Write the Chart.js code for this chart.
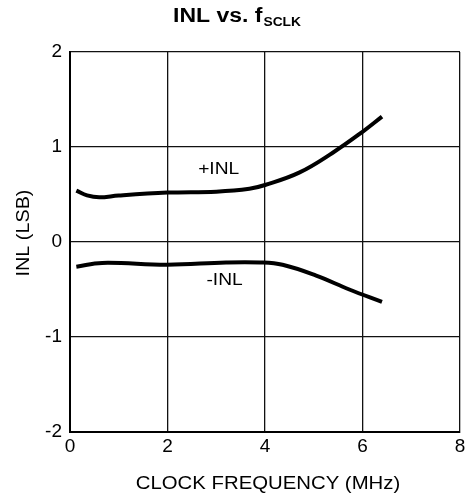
<!DOCTYPE html>
<html>
<head>
<meta charset="utf-8">
<script src="https://cdn.jsdelivr.net/npm/chart.js@4.4.1/dist/chart.umd.min.js"></script>
<style>
  html, body { margin: 0; padding: 0; background: #fff; }
  #wrap { position: relative; width: 469px; height: 499px; }
</style>
</head>
<body>
<div id="wrap"><canvas id="inlChart"></canvas></div>
<script>
// values
const plusFreq = [0.13, 0.35, 0.6, 1.0, 2.0, 3.0, 3.68, 4.0, 4.7, 5.39, 6.0, 6.40];
const plusInl  = [0.54, 0.49, 0.47, 0.49, 0.52, 0.53, 0.56, 0.60, 0.73, 0.94, 1.16, 1.32];
const minusFreq = [0.13, 0.66, 2.0, 3.2, 3.9, 4.36, 5.05, 5.73, 6.40];
const minusInl  = [-0.26, -0.22, -0.24, -0.215, -0.215, -0.24, -0.354, -0.50, -0.63];
const xTicks = [0, 2, 4, 6, 8];
const yTicks = [-2, -1, 0, 1, 2];
const curveLabels = [
    { text: '+INL', x: 3.05, y: 0.76 },
    { text: '-INL', x: 3.17, y: -0.41 }
];

const FONT = '"Liberation Sans", Arial, sans-serif';

function toPoints(xs, ys) {
    return xs.map(function (x, i) { return { x: x, y: ys[i] }; });
}

// draws text stretched horizontally like the original figure
function wideText(ctx, text, x, y, sx) {
    ctx.save();
    ctx.translate(x, y);
    ctx.scale(sx, 1);
    ctx.fillText(text, 0, 0);
    ctx.restore();
}

// title, axis titles and curve labels
const textPlugin = {
    id: 'texts',
    afterDraw: function (chart) {
        const ctx = chart.ctx;
        const xs = chart.scales.x, ys = chart.scales.y;
        const sx = 1.15;
        ctx.save();
        ctx.fillStyle = '#000';

        // title with subscript
        ctx.textBaseline = 'alphabetic';
        ctx.textAlign = 'left';
        ctx.font = 'bold 20px ' + FONT;
        const main = 'INL vs. f';
        const mainW = ctx.measureText(main).width * sx;
        ctx.font = 'bold 12px ' + FONT;
        const subW = ctx.measureText('SCLK').width * sx;
        const tx = 237 - (mainW + subW + 1) / 2;
        ctx.font = 'bold 20px ' + FONT;
        wideText(ctx, main, tx, 22, sx);
        ctx.font = 'bold 12px ' + FONT;
        wideText(ctx, 'SCLK', tx + mainW + 1, 26, sx);

        // axis titles
        ctx.font = '18px ' + FONT;
        ctx.textAlign = 'center';
        ctx.textBaseline = 'middle';
        wideText(ctx, 'CLOCK FREQUENCY (MHz)', 268, 484, 1.13);
        ctx.save();
        ctx.translate(24, 233);
        ctx.rotate(-Math.PI / 2);
        wideText(ctx, 'INL (LSB)', 0, 0, 1.1);
        ctx.restore();

        // curve labels
        ctx.font = '16px ' + FONT;
        curveLabels.forEach(function (l) {
            wideText(ctx, l.text, xs.getPixelForValue(l.x), ys.getPixelForValue(l.y), 1.2);
        });
        ctx.restore();
    }
};

new Chart(document.getElementById('inlChart'), {
    type: 'line',
    data: {
        datasets: [
            {
                label: '+INL',
                data: toPoints(plusFreq, plusInl),
                borderColor: '#000',
                borderWidth: 4,
                pointRadius: 0,
                tension: 0.4,
                fill: false
            },
            {
                label: '-INL',
                data: toPoints(minusFreq, minusInl),
                borderColor: '#000',
                borderWidth: 4,
                pointRadius: 0,
                tension: 0.4,
                fill: false
            }
        ]
    },
    options: {
        responsive: true,
        maintainAspectRatio: false,
        animation: false,
        layout: { padding: { left: 0, right: 9, top: 52, bottom: 0 } },
        plugins: {
            legend: { display: false },
            tooltip: { enabled: false },
            title: { display: false }
        },
        scales: {
            x: {
                type: 'linear',
                min: 0,
                max: 8,
                afterFit: function (s) { s.height = 67; },
                afterBuildTicks: function (s) { s.ticks = xTicks.map(function (v) { return { value: v }; }); },
                grid: { color: '#111', lineWidth: 1.3, drawTicks: false },
                border: { color: '#000', width: 2 },
                ticks: {
                    padding: 3,
                    color: '#000',
                    font: { family: FONT, size: 19 },
                    maxRotation: 0
                }
            },
            y: {
                min: -2,
                max: 2,
                afterFit: function (s) { s.width = 70; },
                afterBuildTicks: function (s) { s.ticks = yTicks.map(function (v) { return { value: v }; }); },
                grid: { color: '#111', lineWidth: 1.3, drawTicks: false },
                border: { color: '#000', width: 2 },
                ticks: {
                    padding: 8,
                    color: '#000',
                    font: { family: FONT, size: 19 }
                }
            }
        }
    },
    plugins: [textPlugin]
});
</script>
</body>
</html>
